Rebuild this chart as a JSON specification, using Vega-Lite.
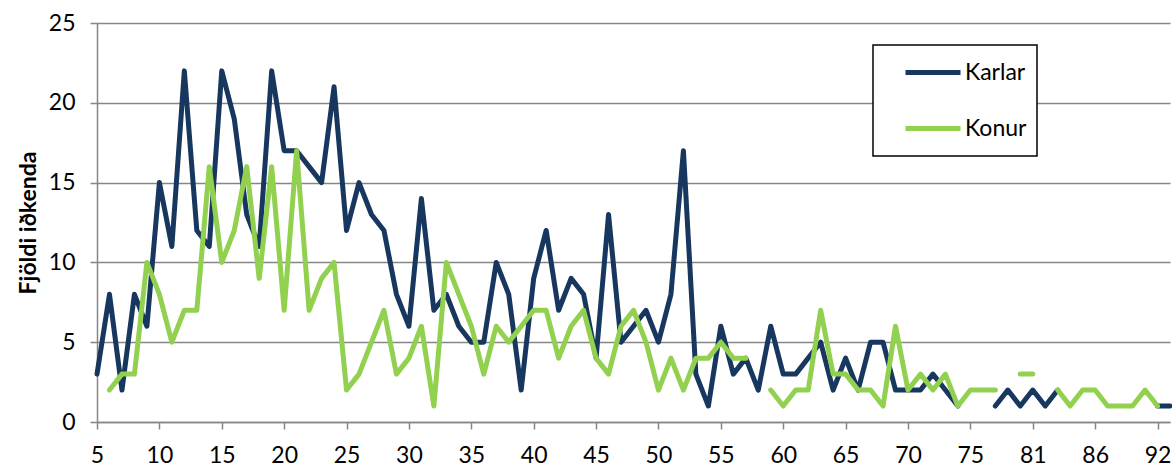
{
  "$schema": "https://vega.github.io/schema/vega-lite/v6.json",
  "width": 1073,
  "height": 399,
  "autosize": {"type": "none"},
  "padding": {"left": 97, "top": 23, "right": 2, "bottom": 45},
  "background": "white",
  "config": {
    "view": {"stroke": null},
    "font": "Lato",
    "legend": {"strokeWidth": 1.5}
  },
  "data": {
    "values": [
      {"age": 5, "Karlar": 3, "Konur": null},
      {"age": 6, "Karlar": 8, "Konur": 2},
      {"age": 7, "Karlar": 2, "Konur": 3},
      {"age": 8, "Karlar": 8, "Konur": 3},
      {"age": 9, "Karlar": 6, "Konur": 10},
      {"age": 10, "Karlar": 15, "Konur": 8},
      {"age": 11, "Karlar": 11, "Konur": 5},
      {"age": 12, "Karlar": 22, "Konur": 7},
      {"age": 13, "Karlar": 12, "Konur": 7},
      {"age": 14, "Karlar": 11, "Konur": 16},
      {"age": 15, "Karlar": 22, "Konur": 10},
      {"age": 16, "Karlar": 19, "Konur": 12},
      {"age": 17, "Karlar": 13, "Konur": 16},
      {"age": 18, "Karlar": 11, "Konur": 9},
      {"age": 19, "Karlar": 22, "Konur": 16},
      {"age": 20, "Karlar": 17, "Konur": 7},
      {"age": 21, "Karlar": 17, "Konur": 17},
      {"age": 22, "Karlar": 16, "Konur": 7},
      {"age": 23, "Karlar": 15, "Konur": 9},
      {"age": 24, "Karlar": 21, "Konur": 10},
      {"age": 25, "Karlar": 12, "Konur": 2},
      {"age": 26, "Karlar": 15, "Konur": 3},
      {"age": 27, "Karlar": 13, "Konur": 5},
      {"age": 28, "Karlar": 12, "Konur": 7},
      {"age": 29, "Karlar": 8, "Konur": 3},
      {"age": 30, "Karlar": 6, "Konur": 4},
      {"age": 31, "Karlar": 14, "Konur": 6},
      {"age": 32, "Karlar": 7, "Konur": 1},
      {"age": 33, "Karlar": 8, "Konur": 10},
      {"age": 34, "Karlar": 6, "Konur": 8},
      {"age": 35, "Karlar": 5, "Konur": 6},
      {"age": 36, "Karlar": 5, "Konur": 3},
      {"age": 37, "Karlar": 10, "Konur": 6},
      {"age": 38, "Karlar": 8, "Konur": 5},
      {"age": 39, "Karlar": 2, "Konur": 6},
      {"age": 40, "Karlar": 9, "Konur": 7},
      {"age": 41, "Karlar": 12, "Konur": 7},
      {"age": 42, "Karlar": 7, "Konur": 4},
      {"age": 43, "Karlar": 9, "Konur": 6},
      {"age": 44, "Karlar": 8, "Konur": 7},
      {"age": 45, "Karlar": 4, "Konur": 4},
      {"age": 46, "Karlar": 13, "Konur": 3},
      {"age": 47, "Karlar": 5, "Konur": 6},
      {"age": 48, "Karlar": 6, "Konur": 7},
      {"age": 49, "Karlar": 7, "Konur": 5},
      {"age": 50, "Karlar": 5, "Konur": 2},
      {"age": 51, "Karlar": 8, "Konur": 4},
      {"age": 52, "Karlar": 17, "Konur": 2},
      {"age": 53, "Karlar": 3, "Konur": 4},
      {"age": 54, "Karlar": 1, "Konur": 4},
      {"age": 55, "Karlar": 6, "Konur": 5},
      {"age": 56, "Karlar": 3, "Konur": 4},
      {"age": 57, "Karlar": 4, "Konur": 4},
      {"age": 58, "Karlar": 2, "Konur": null},
      {"age": 59, "Karlar": 6, "Konur": 2},
      {"age": 60, "Karlar": 3, "Konur": 1},
      {"age": 61, "Karlar": 3, "Konur": 2},
      {"age": 62, "Karlar": 4, "Konur": 2},
      {"age": 63, "Karlar": 5, "Konur": 7},
      {"age": 64, "Karlar": 2, "Konur": 3},
      {"age": 65, "Karlar": 4, "Konur": 3},
      {"age": 66, "Karlar": 2, "Konur": 2},
      {"age": 67, "Karlar": 5, "Konur": 2},
      {"age": 68, "Karlar": 5, "Konur": 1},
      {"age": 69, "Karlar": 2, "Konur": 6},
      {"age": 70, "Karlar": 2, "Konur": 2},
      {"age": 71, "Karlar": 2, "Konur": 3},
      {"age": 72, "Karlar": 3, "Konur": 2},
      {"age": 73, "Karlar": 2, "Konur": 3},
      {"age": 74, "Karlar": 1, "Konur": 1},
      {"age": 75, "Karlar": null, "Konur": 2},
      {"age": 76, "Karlar": null, "Konur": 2},
      {"age": 77, "Karlar": 1, "Konur": 2},
      {"age": 78, "Karlar": 2, "Konur": null},
      {"age": 80, "Karlar": 1, "Konur": 3},
      {"age": 81, "Karlar": 2, "Konur": 3},
      {"age": 82, "Karlar": 1, "Konur": null},
      {"age": 83, "Karlar": 2, "Konur": 2},
      {"age": 84, "Karlar": null, "Konur": 1},
      {"age": 85, "Karlar": null, "Konur": 2},
      {"age": 86, "Karlar": null, "Konur": 2},
      {"age": 87, "Karlar": null, "Konur": 1},
      {"age": 88, "Karlar": null, "Konur": 1},
      {"age": 89, "Karlar": null, "Konur": 1},
      {"age": 91, "Karlar": null, "Konur": 2},
      {"age": 92, "Karlar": 1, "Konur": 1},
      {"age": 93, "Karlar": 1, "Konur": null}
    ]
  },
  "transform": [{"fold": ["Karlar", "Konur"], "as": ["kyn", "n"]}],
  "mark": {
    "type": "line",
    "strokeWidth": 5,
    "strokeCap": "round",
    "strokeJoin": "round",
    "invalid": "break-paths-show-domains"
  },
  "encoding": {
    "x": {
      "field": "age",
      "type": "ordinal",
      "scale": {"type": "point", "padding": 0},
      "axis": {
        "title": null,
        "values": [5, 10, 15, 20, 25, 30, 35, 40, 45, 50, 55, 60, 65, 70, 75, 81, 86, 92],
        "labelAngle": 0,
        "labelFont": "Lato",
        "labelFontSize": 23,
        "labelColor": "black",
        "labelPadding": 15,
        "labelOverlap": false,
        "labelFlush": false,
        "tickSize": 7,
        "tickWidth": 1.5,
        "tickColor": "#868686",
        "domainColor": "#868686",
        "domainWidth": 1.5,
        "grid": false
      }
    },
    "y": {
      "field": "n",
      "type": "quantitative",
      "scale": {"domain": [0, 25], "nice": false},
      "axis": {
        "title": "Fjöldi iðkenda",
        "titleFont": "Lato",
        "titleFontSize": 23,
        "titleFontWeight": "bold",
        "titleColor": "black",
        "titlePadding": 8,
        "values": [0, 5, 10, 15, 20, 25],
        "labelFont": "Lato",
        "labelFontSize": 23,
        "labelColor": "black",
        "labelPadding": 15,
        "tickSize": 7,
        "tickWidth": 1.5,
        "tickColor": "#868686",
        "domainColor": "#868686",
        "domainWidth": 1.5,
        "grid": true,
        "gridColor": "#868686",
        "gridWidth": 1.5
      }
    },
    "color": {
      "field": "kyn",
      "type": "nominal",
      "scale": {"domain": ["Karlar", "Konur"], "range": ["#17375E", "#92D050"]},
      "legend": {
        "title": null,
        "orient": "none",
        "legendX": 776,
        "legendY": 22,
        "direction": "vertical",
        "fillColor": "white",
        "strokeColor": "black",
        "padding": 10,
        "symbolType": "stroke",
        "symbolSize": 3025,
        "symbolStrokeWidth": 5,
        "symbolOffset": 20,
        "clipHeight": 35,
        "rowPadding": 21,
        "labelOffset": 2,
        "labelFont": "Lato",
        "labelFontSize": 23,
        "labelColor": "black",
        "labelExpr": "datum.label + '\u00a0\u00a0\u00a0\u00a0\u00a0\u00a0\u00a0\u00a0\u00a0\u00a0\u00a0'"
      }
    }
  }
}
